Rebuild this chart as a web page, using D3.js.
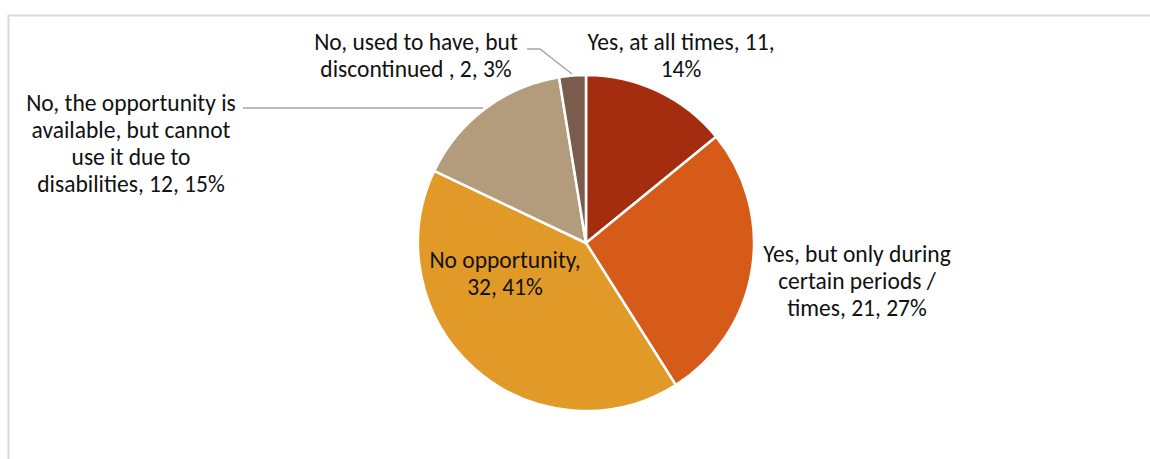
<!DOCTYPE html>
<html>
<head>
<meta charset="utf-8">
<script src="https://cdn.jsdelivr.net/npm/d3@7"></script>
<style>
  body { margin: 0; background: #fff; }
  svg { display: block; font-family: Carlito, Lato, "Open Sans", sans-serif; }
</style>
</head>
<body>
<svg id="chart" width="1150" height="459"></svg>
<script>
// answers, counts, colours (clockwise from 12 o'clock)
const categories = [
  'Yes, at all times',
  'Yes, but only during certain periods / times',
  'No opportunity',
  'No, the opportunity is available, but cannot use it due to disabilities',
  'No, used to have, but discontinued '
]
const counts = [11, 21, 32, 12, 2]
const colors = ['#a42d10', '#d65a18', '#e19a28', '#b29c7c', '#7b5b4c']

// label text lines, as wrapped in the original
const labelLines = [
  ['Yes, at all times, 11,', '14%'],
  ['Yes, but only during', 'certain periods /', 'times, 21, 27%'],
  ['No opportunity,', '32, 41%'],
  ['No, the opportunity is', 'available, but cannot', 'use it due to', 'disabilities, 12, 15%'],
  ['No, used to have, but', 'discontinued , 2, 3%']
]

const width = 1150
const height = 459
const cx = 586
const cy = 243
const radius = 168

const svg = d3.select('#chart')

// chart frame (only the top and left edges show)
svg.append('path')
  .attr('d', `M8.5,${height} V15.5 H${width}`)
  .attr('fill', 'none')
  .attr('stroke', '#d9d9d9')
  .attr('stroke-width', 2)

const data = counts.map((v, i) => ({ name: categories[i], value: v, i }))

const pie = d3.pie().sort(null).value(d => d.value)
const arc = d3.arc().innerRadius(0).outerRadius(radius)
const arcs = pie(data)

const g = svg.append('g').attr('transform', `translate(${cx},${cy})`)

g.selectAll('path.slice')
  .data(arcs)
  .enter()
  .append('path')
  .attr('class', 'slice')
  .attr('d', arc)
  .attr('fill', d => colors[d.data.i])
  .attr('stroke', '#fff')
  .attr('stroke-width', 2.5)

// label anchor points (centre x, first baseline y), relative to the pie centre
const labelPos = [
  [95, -193],
  [271, 19],
  [-81, 25],
  [-455, -132],
  [-170, -193]
]
const lineH = 27

const labels = svg.append('g')
  .attr('font-size', 23.5)
  .attr('fill', '#111')
  .attr('text-anchor', 'middle')

labelLines.forEach((lines, i) => {
  const t = labels.append('text')
    .attr('x', cx + labelPos[i][0])
    .attr('y', cy + labelPos[i][1])
  lines.forEach((s, k) => {
    t.append('tspan')
      .attr('x', cx + labelPos[i][0])
      .attr('dy', k === 0 ? 0 : lineH)
      .text(s)
  })
})

// leader lines for the two outside labels on the left / top
const leaders = [
  [[243, 108], [483, 108]],
  [[527, 49], [540, 49], [572, 74]]
]
leaders.forEach(pts => {
  svg.append('path')
    .attr('d', d3.line()(pts))
    .attr('fill', 'none')
    .attr('stroke', '#a6a6a6')
    .attr('stroke-width', 1.5)
})
</script>
</body>
</html>
